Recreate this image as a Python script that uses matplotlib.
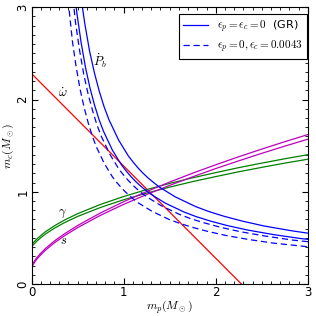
import numpy as np
import matplotlib
matplotlib.use("Agg")
import matplotlib.pyplot as plt

plt.rcParams['mathtext.fontset'] = 'cm'

# total mass line from omega-dot
omdot_x = [0.0, 2.28]
omdot_y = [2.28, 0.0]

# gamma (two lines)
gam_x = [0.0, 0.05, 0.1, 0.15, 0.25, 0.35, 0.5, 0.75, 1.0, 1.25, 1.5, 1.75, 2.0, 2.25, 2.5, 2.75, 3.0]
gam_hi = [0.428, 0.482, 0.527, 0.567, 0.633, 0.690, 0.763, 0.864, 0.949, 1.024, 1.091, 1.152, 1.208, 1.262, 1.311, 1.358, 1.402]
gam_lo = [0.404, 0.459, 0.503, 0.542, 0.607, 0.662, 0.733, 0.831, 0.914, 0.986, 1.051, 1.111, 1.165, 1.217, 1.265, 1.311, 1.353]

# shapiro s (two lines)
s_x = [0.0, 0.05, 0.1, 0.15, 0.25, 0.35, 0.5, 0.75, 1.0, 1.25, 1.5, 1.75, 2.0, 2.25, 2.5, 2.75, 3.0]
s_hi = [0.199, 0.279, 0.335, 0.385, 0.469, 0.540, 0.635, 0.772, 0.893, 1.003, 1.106, 1.202, 1.293, 1.380, 1.463, 1.543, 1.620]
s_lo = [0.185, 0.262, 0.317, 0.366, 0.449, 0.519, 0.612, 0.746, 0.864, 0.971, 1.070, 1.163, 1.252, 1.336, 1.417, 1.495, 1.570]

# Pb-dot, GR (solid, two lines)
pb_gr1_x = [0.441, 0.482, 0.493, 0.537, 0.586, 0.634, 0.683, 0.732, 0.781, 0.878, 0.976, 1.025, 1.074, 1.121,
            1.171, 1.229, 1.292, 1.451, 1.656, 1.785, 1.942, 2.126, 2.345, 2.623, 2.928, 3.026, 3.416]
pb_gr1_y = [3.416, 3.026, 2.928, 2.623, 2.345, 2.126, 1.942, 1.785, 1.656, 1.451, 1.292, 1.229, 1.171, 1.121,
            1.074, 1.025, 0.976, 0.878, 0.781, 0.732, 0.683, 0.634, 0.586, 0.537, 0.493, 0.482, 0.441]
pb_gr2_x = [0.519, 0.530, 0.578, 0.630, 0.683, 0.735, 0.788, 0.840, 0.945, 1.050, 1.103, 1.155, 1.206,
            1.260, 1.322, 1.390, 1.561, 1.782, 1.920, 2.090, 2.287, 2.523, 2.822, 3.150, 3.255]
pb_gr2_y = [3.255, 3.150, 2.822, 2.523, 2.287, 2.090, 1.920, 1.782, 1.561, 1.390, 1.322, 1.260, 1.206,
            1.155, 1.103, 1.050, 0.945, 0.840, 0.788, 0.735, 0.683, 0.630, 0.578, 0.530, 0.519]

# Pb-dot, eps_c = 0.0043 (dashed, two lines)
pb_d1_x = [0.397, 0.434, 0.443, 0.483, 0.527, 0.571, 0.615, 0.659, 0.702, 0.790, 0.878, 0.922, 0.966, 1.009,
           1.054, 1.105, 1.162, 1.306, 1.490, 1.606, 1.747, 1.912, 2.110, 2.360, 2.634, 2.722, 3.073]
pb_d1_y = [3.073, 2.722, 2.634, 2.360, 2.110, 1.912, 1.747, 1.606, 1.490, 1.306, 1.162, 1.105, 1.054, 1.009,
           0.966, 0.922, 0.878, 0.790, 0.702, 0.659, 0.615, 0.571, 0.527, 0.483, 0.443, 0.434, 0.397]
pb_d2_x = [0.427, 0.467, 0.477, 0.520, 0.567, 0.614, 0.662, 0.709, 0.756, 0.851, 0.945, 0.992, 1.040, 1.086,
           1.134, 1.190, 1.251, 1.405, 1.604, 1.728, 1.881, 2.058, 2.271, 2.540, 2.835, 2.930, 3.308]
pb_d2_y = [3.308, 2.930, 2.835, 2.540, 2.271, 2.058, 1.881, 1.728, 1.604, 1.405, 1.251, 1.190, 1.134, 1.086,
           1.040, 0.992, 0.945, 0.851, 0.756, 0.709, 0.662, 0.614, 0.567, 0.520, 0.477, 0.467, 0.427]

fig = plt.figure(figsize=(3.16, 3.16), dpi=100)
ax = fig.add_axes([0.100, 0.101, 0.874, 0.876])

lw = 0.9
ax.plot(omdot_x, omdot_y, color='r', lw=lw)
ax.plot(gam_x, gam_hi, color='g', lw=lw)
ax.plot(gam_x, gam_lo, color='g', lw=lw)
ax.plot(s_x, s_hi, color='m', lw=lw)
ax.plot(s_x, s_lo, color='m', lw=lw)
l1, = ax.plot(pb_gr1_x, pb_gr1_y, color='b', lw=lw)
ax.plot(pb_gr2_x, pb_gr2_y, color='b', lw=lw)
l2, = ax.plot(pb_d1_x, pb_d1_y, color='b', lw=lw, dashes=(5, 3))
ax.plot(pb_d2_x, pb_d2_y, color='b', lw=lw, dashes=(5, 3))

ax.text(0.74, 2.42, r'$\dot{P}_b$', fontsize=9, ha='center', va='center')
ax.text(0.34, 2.07, r'$\dot{\omega}$', fontsize=9, ha='center', va='center')
ax.text(0.33, 0.77, r'$\gamma$', fontsize=9, ha='center', va='center')
ax.text(0.35, 0.47, r'$s$', fontsize=9, ha='center', va='center')

ax.set_xlim(0, 3)
ax.set_ylim(0, 3)
ax.set_xticks([0, 1, 2, 3])
ax.set_yticks([0, 1, 2, 3])
ax.set_xticks(np.arange(0, 3.01, 0.1), minor=True)
ax.set_yticks(np.arange(0, 3.01, 0.1), minor=True)
ax.tick_params(which='both', direction='in', top=True, right=True, labelsize=8.5, pad=1.5)
ax.tick_params(which='major', length=4)
ax.tick_params(which='minor', length=2)
for lab in ax.get_yticklabels():
    lab.set_rotation(90)
    lab.set_va('center')
ax.set_xlabel(r'$m_p(M_\odot)$', fontsize=8.5, labelpad=0)
ax.set_ylabel(r'$m_c(M_\odot)$', fontsize=8.5, labelpad=0)
ax.xaxis.set_label_coords(0.5, -0.055)
ax.yaxis.set_label_coords(-0.055, 0.5)

leg = ax.legend([l1, l2], [r'$\epsilon_p=\epsilon_c=0$  (GR)', r'$\epsilon_p=0,\epsilon_c=0.0043$'],
                loc='upper right', bbox_to_anchor=(0.997, 0.975), borderaxespad=0, fontsize=8,
                fancybox=False, framealpha=1, handlelength=2.2, borderpad=0.4, labelspacing=0.3)
leg.get_frame().set_edgecolor('k')
leg.get_frame().set_linewidth(0.8)

fig.savefig('out.png', dpi=100)
